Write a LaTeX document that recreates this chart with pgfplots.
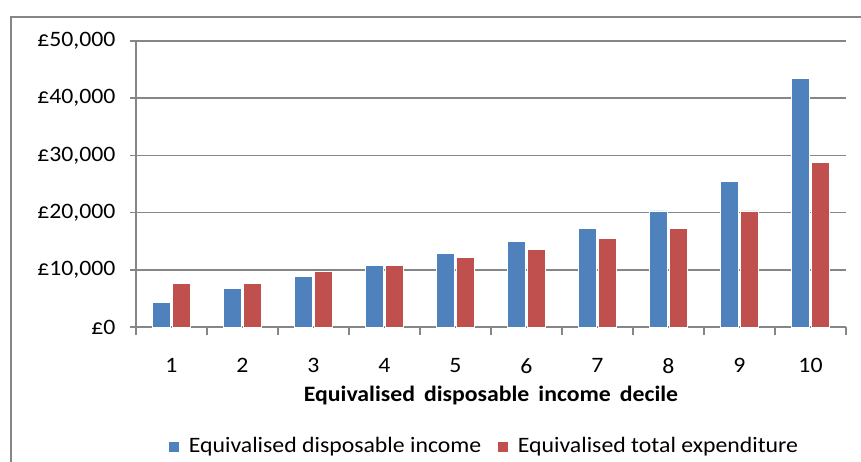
\documentclass[border=0pt]{standalone}
\usepackage{pgfplots}
\pgfplotsset{compat=1.18}
\usepackage{fontspec}
\setmainfont{Carlito}[FakeStretch=1.08]
\definecolor{cblue}{RGB}{79,129,189}
\definecolor{cred}{RGB}{192,80,77}
\definecolor{cgrid}{RGB}{134,134,134}
\begin{document}
\fontsize{22pt}{26pt}\selectfont
\begin{tikzpicture}[x=1pt,y=1pt]
\useasboundingbox (0,0) rectangle (861,461);
\clip (0,0) rectangle (861,461);
\draw[cgrid, line width=1.5pt] (11,-20) -- (11,444) -- (880,444);
\begin{axis}[
  at={(136pt,134pt)}, anchor=south west, scale only axis,
  width=710pt, height=286pt,
  ybar=2pt, bar width=18pt,
  xmin=0.5, xmax=10.5, ymin=0, ymax=50000,
  axis x line=bottom, axis y line=left,
  axis line style={-, cgrid, line width=1.5pt},
  tick align=outside, major tick length=6pt, minor tick length=8pt,
  tick style={cgrid, line width=1.5pt},
  xtick={1,...,10},
  minor xtick={0.5,1.5,...,10.5},
  every major x tick/.append style={draw=none},
  ytick={0,10000,20000,30000,40000,50000},
  yticklabels={£0,{£10,000},{£20,000},{£30,000},{£40,000},{£50,000}},
  scaled y ticks=false,
  ymajorgrids, grid style={cgrid, line width=1.5pt},
  xticklabel style={font=\fontsize{22pt}{26pt}\selectfont, yshift=-18pt},
  yticklabel style={font=\fontsize{22pt}{26pt}\selectfont, xshift=-7pt},
  /pgf/number format/assume math mode=true,
  xlabel={\bfseries Equivalised\hspace{9pt}disposable\hspace{9pt}income\hspace{9pt}decile},
  xlabel style={at={(axis description cs:0.5,-0.24)}, anchor=center, font=\fontsize{22pt}{26pt}\selectfont},
  legend columns=2,
  legend style={at={(0.4904,-0.418)}, anchor=center, draw=none, fill=none,
    font=\fontsize{22pt}{26pt}\selectfont,
    /tikz/every even column/.append style={column sep=14pt}},
  legend image code/.code={\fill[#1] (-5pt,-5.5pt) rectangle (6pt,5.5pt);},
]
\addplot[fill=cblue, draw=white, line width=0.6pt] coordinates {
(1,4300) (2,6700) (3,8800) (4,10700) (5,12800) (6,14900) (7,17300) (8,20300) (9,25500) (10,43500)};
\addplot[fill=cred, draw=white, line width=0.6pt] coordinates {
(1,7600) (2,7600) (3,9800) (4,10700) (5,12200) (6,13600) (7,15500) (8,17300) (9,20300) (10,28800)};
\legend{\hspace{7pt}Equivalised disposable income, \hspace{7pt}Equivalised total expenditure}
\end{axis}
\end{tikzpicture}
\end{document}
